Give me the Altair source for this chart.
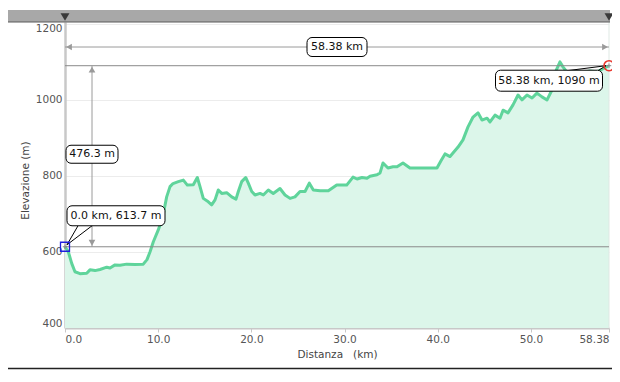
import altair as alt
import pandas as pd

# ---- profile data (distance km, elevation m) ----
km = [0.00, 0.35, 0.72, 1.07, 1.61, 2.33, 2.68, 3.22, 3.76, 4.48, 4.83, 5.37, 5.90, 6.62,
      7.51, 8.40, 8.80, 9.12, 9.48, 10.01, 10.38, 10.55, 10.91, 11.27, 11.59, 12.16, 12.70,
      13.13, 13.77, 14.20, 14.49, 14.84, 15.38, 15.74, 16.10, 16.45, 16.82, 17.35, 17.89,
      18.35, 18.60, 18.96, 19.39, 19.67, 20.04, 20.39, 20.93, 21.28, 21.82, 22.35, 23.07,
      23.61, 24.15, 24.68, 25.22, 25.76, 26.22, 26.65, 27.37, 28.26, 29.16, 30.23, 30.91,
      31.34, 31.87, 32.41, 32.73, 33.48, 33.81, 34.13, 34.66, 35.20, 35.63, 36.27, 37.02,
      38.10, 39.17, 39.92, 40.35, 40.78, 41.32, 42.18, 42.71, 43.25, 43.79, 44.32, 44.75,
      45.29, 45.61, 46.15, 46.68, 47.01, 47.54, 48.08, 48.62, 49.04, 49.58, 50.12, 50.65,
      51.19, 51.73, 52.26, 52.59, 53.12, 53.44, 53.87, 54.73, 55.48, 56.34, 57.09, 57.74,
      58.38]
elev = [613.7, 601, 570, 548, 543, 544, 553, 551, 554, 560, 558, 566, 565, 568,
        567, 568, 580, 600, 627, 658, 684, 700, 745, 772, 780, 785, 789,
        776, 777, 796, 772, 741, 732, 724, 737, 763, 754, 756, 745,
        739, 759, 785, 796, 781, 759, 750, 754, 750, 763, 754, 767,
        750, 741, 745, 759, 759, 781, 763, 761, 761, 776, 776, 797,
        792, 796, 794, 799, 803, 808, 834, 821, 824, 824, 834, 821,
        821, 821, 821, 840, 858, 851, 876, 895, 929, 955, 966, 947,
        952, 942, 960, 952, 973, 966, 987, 1013, 1000, 1013, 1005, 1018,
        1008, 1000, 1026, 1071, 1100, 1087, 1073, 1075, 1072, 1076, 1074, 1082,
        1090]

x_ticks = [0, 10, 20, 30, 40, 50, 58.38]
y_ticks = [400, 600, 800, 1000, 1200]

total_km = 58.38
start_elev = 613.7
end_elev = 1090
gain = 476.3

W, H = 544, 306
XDOM = [0, total_km]
YDOM = [400, 1205]


def yv(px):
    return YDOM[1] - px * (YDOM[1] - YDOM[0]) / H


def xv(px):
    return px * (XDOM[1] - XDOM[0]) / W


FONT = "DejaVu Sans"
GREEN = "#5fd49b"
FILL = "#dcf6ea"

df = pd.DataFrame({"km": km, "elev": elev})

xs = alt.Scale(domain=XDOM, nice=False, zero=False)
ys = alt.Scale(domain=YDOM, nice=False, zero=False)

xaxis = alt.Axis(
    values=x_ticks,
    labelExpr="datum.value == 58.38 ? '58.38' : format(datum.value, '.1f')",
    title="Distanza\u00a0\u00a0\u00a0(km)",
    domainColor="#c8c8c8", domainWidth=2,
    tickColor="#c8c8c8", tickSize=4,
    labelColor="#555555", labelFont=FONT, labelFontSize=10.5, labelPadding=2,
    labelFlush=True,
    titleFont=FONT, titleFontSize=10.5, titleFontWeight="normal", titleColor="#444444",
    titlePadding=5, grid=False,
)
yaxis = alt.Axis(
    values=y_ticks,
    format="d",
    title="Elevazione (m)",
    domainColor="#c8c8c8", domainWidth=2.5,
    ticks=False,
    labelColor="#555555", labelFont=FONT, labelFontSize=10.5, labelPadding=3,
    labelFlush=10,
    titleFont=FONT, titleFontSize=10.5, titleFontWeight="normal", titleColor="#444444",
    titleX=-40, titleY=158, titleBaseline="middle",
    grid=True, gridColor="#ececec", gridWidth=1,
)

area = alt.Chart(df).mark_area(color=FILL, opacity=1).encode(
    x=alt.X("km:Q", scale=xs, axis=xaxis),
    y=alt.Y("elev:Q", scale=ys, axis=yaxis),
    y2=alt.datum(YDOM[0]),
)
line = alt.Chart(df).mark_line(color=GREEN, strokeWidth=3, strokeJoin="round").encode(
    x="km:Q", y="elev:Q"
)

one = pd.DataFrame({"a": [0]})

# right faint border
right_edge = alt.Chart(one).mark_rule(color="#dfe9e4", strokeWidth=1).encode(
    x=alt.datum(total_km), y=alt.value(0), y2=alt.value(H)
)

# top grey bar with markers
bar = alt.Chart(one).mark_rect(color="#a8a8a8").encode(
    x=alt.value(-57), x2=alt.value(545), y=alt.value(-12), y2=alt.value(0)
)
bar_line = alt.Chart(one).mark_rule(color="#5a5a5a", strokeWidth=1).encode(
    x=alt.value(-57), x2=alt.value(545), y=alt.value(0)
)
ends = pd.DataFrame({"km": [0, total_km]})
bar_tri = alt.Chart(ends).mark_point(shape="triangle-down", filled=True, color="#3a3a3a",
                                     size=80, opacity=1).encode(
    x="km:Q", y=alt.value(-5)
)

GREY = "#9a9a9a"
DIM_Y = yv(25)

# horizontal distance dimension
dim_h = alt.Chart(one).mark_rule(color=GREY, strokeWidth=1).encode(
    x=alt.datum(0), x2=alt.datum(total_km), y=alt.datum(DIM_Y)
)
dim_h_l = alt.Chart(one).mark_point(shape="triangle-left", filled=True, color=GREY, size=45,
                                    opacity=1, xOffset=4).encode(
    x=alt.datum(0), y=alt.datum(DIM_Y))
dim_h_r = alt.Chart(one).mark_point(shape="triangle-right", filled=True, color=GREY, size=45,
                                    opacity=1, xOffset=-4).encode(
    x=alt.datum(total_km), y=alt.datum(DIM_Y))
box_h = alt.Chart(one).mark_rect(width=60, height=19, cornerRadius=5, fill="white",
                                 stroke="black", strokeWidth=1).encode(
    x=alt.datum(total_km / 2), y=alt.datum(DIM_Y))
txt_h = alt.Chart(one).mark_text(font=FONT, fontSize=11, color="#111111").encode(
    x=alt.datum(total_km / 2), y=alt.datum(DIM_Y), text=alt.value(f"{total_km:.2f} km"))

# level lines
lvl_end = alt.Chart(one).mark_rule(color="#8a8a8a", strokeWidth=1).encode(
    x=alt.datum(0), x2=alt.datum(total_km), y=alt.datum(end_elev))
lvl_start = alt.Chart(one).mark_rule(color="#8a8a8a", strokeWidth=1).encode(
    x=alt.datum(0), x2=alt.datum(total_km), y=alt.datum(start_elev))

# vertical gain dimension
VX = xv(27)
MID = (start_elev + end_elev) / 2
dim_v = alt.Chart(one).mark_rule(color=GREY, strokeWidth=1).encode(
    x=alt.datum(VX), y=alt.datum(start_elev), y2=alt.datum(end_elev))
dim_v_t = alt.Chart(one).mark_point(shape="triangle-up", filled=True, color=GREY, size=45,
                                    opacity=1, yOffset=4).encode(
    x=alt.datum(VX), y=alt.datum(end_elev))
dim_v_b = alt.Chart(one).mark_point(shape="triangle-down", filled=True, color=GREY, size=45,
                                    opacity=1, yOffset=-4).encode(
    x=alt.datum(VX), y=alt.datum(start_elev))
box_v = alt.Chart(one).mark_rect(width=52, height=18, cornerRadius=5, fill="white",
                                 stroke="black", strokeWidth=1, yOffset=-2).encode(
    x=alt.datum(VX), y=alt.datum(MID))
txt_v = alt.Chart(one).mark_text(font=FONT, fontSize=11, color="#111111", yOffset=-2).encode(
    x=alt.datum(VX), y=alt.datum(MID), text=alt.value(f"{gain} m"))

CROSS = "M-1,0H1M0,-1V1"

# start marker and label
s_l1 = alt.Chart(one).mark_rule(color="black", strokeWidth=1, xOffset=2, yOffset=-2,
                                x2Offset=13, y2Offset=-21).encode(
    x=alt.datum(0), x2=alt.datum(0), y=alt.datum(start_elev), y2=alt.datum(start_elev))
s_l2 = alt.Chart(one).mark_rule(color="black", strokeWidth=1, xOffset=2, yOffset=-2,
                                x2Offset=27, y2Offset=-21).encode(
    x=alt.datum(0), x2=alt.datum(0), y=alt.datum(start_elev), y2=alt.datum(start_elev))
s_sq = alt.Chart(one).mark_point(shape="square", size=81, filled=False, stroke="#2020dd",
                                 strokeWidth=1.3, opacity=1).encode(
    x=alt.datum(0), y=alt.datum(start_elev))
s_cr = alt.Chart(one).mark_point(shape=CROSS, size=20, filled=False, stroke="#888888",
                                 strokeWidth=1, opacity=1).encode(
    x=alt.datum(0), y=alt.datum(start_elev))
s_box = alt.Chart(one).mark_rect(width=98, height=20, cornerRadius=5, fill="white",
                                 stroke="black", strokeWidth=1, xOffset=51, yOffset=-31).encode(
    x=alt.datum(0), y=alt.datum(start_elev))
s_txt = alt.Chart(one).mark_text(font=FONT, fontSize=11, color="#111111",
                                 xOffset=51, yOffset=-31).encode(
    x=alt.datum(0), y=alt.datum(start_elev),
    text=alt.value(f"{0:.1f} km, {start_elev} m"))

# end marker and label
e_l1 = alt.Chart(one).mark_rule(color="black", strokeWidth=1, xOffset=-3,
                                x2Offset=-42, y2Offset=5).encode(
    x=alt.datum(total_km), x2=alt.datum(total_km), y=alt.datum(end_elev), y2=alt.datum(end_elev))
e_l2 = alt.Chart(one).mark_rule(color="black", strokeWidth=1, xOffset=-3,
                                x2Offset=-11, y2Offset=5).encode(
    x=alt.datum(total_km), x2=alt.datum(total_km), y=alt.datum(end_elev), y2=alt.datum(end_elev))
e_box = alt.Chart(one).mark_rect(width=107, height=21, cornerRadius=5, fill="white",
                                 stroke="black", strokeWidth=1, xOffset=-60, yOffset=15).encode(
    x=alt.datum(total_km), y=alt.datum(end_elev))
e_txt = alt.Chart(one).mark_text(font=FONT, fontSize=11, color="#111111",
                                 xOffset=-60, yOffset=15).encode(
    x=alt.datum(total_km), y=alt.datum(end_elev),
    text=alt.value(f"{total_km} km, {end_elev} m"))
e_ci = alt.Chart(one).mark_point(shape="circle", size=100, filled=False, stroke="#e8392f",
                                 strokeWidth=1.6, opacity=1).encode(
    x=alt.datum(total_km), y=alt.datum(end_elev))
e_cr = alt.Chart(one).mark_point(shape=CROSS, size=20, filled=False, stroke="#888888",
                                 strokeWidth=1, opacity=1).encode(
    x=alt.datum(total_km), y=alt.datum(end_elev))

# bottom frame line
bottom = alt.Chart(one).mark_rule(color="#222222", strokeWidth=1.5).encode(
    x=alt.value(-57), x2=alt.value(547), y=alt.value(346.5))

chart = alt.layer(
    area, line, right_edge, bar, bar_line, bar_tri,
    lvl_end, lvl_start,
    dim_h, dim_h_l, dim_h_r, box_h, txt_h,
    dim_v, dim_v_t, dim_v_b, box_v, txt_v,
    s_l1, s_l2, s_sq, s_cr, s_box, s_txt,
    e_l1, e_l2, e_box, e_txt, e_ci, e_cr,
    bottom,
).properties(
    width=W, height=H,
    autosize=alt.AutoSizeParams(type="none"),
    padding={"left": 57, "top": 14, "right": 3, "bottom": 42},
    background="white",
).configure_view(stroke="transparent")

chart.save("out.html", embed_options={"renderer": "svg", "actions": False})
